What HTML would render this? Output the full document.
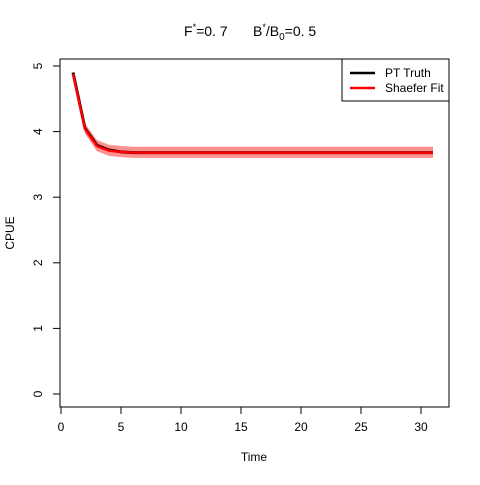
<!DOCTYPE html>
<html><head><meta charset="utf-8"><style>
body{margin:0;background:#fff}
svg text{font-family:"Liberation Sans",sans-serif;font-size:12px;fill:#000}
</style></head><body>
<svg width="480" height="480" xmlns="http://www.w3.org/2000/svg">
<rect width="480" height="480" fill="#fff"/>
<g style="font-size:14px">
<text x="184" y="36" style="font-size:14px">F<tspan dy="-6" style="font-size:9px">*</tspan><tspan dy="6">=0. 7</tspan></text>
<text x="253" y="36" style="font-size:14px">B<tspan dy="-6" style="font-size:9px">*</tspan><tspan dy="6">/B</tspan><tspan dy="4" style="font-size:10px">0</tspan><tspan dy="-4">=0. 5</tspan></text>
</g>
<g id="axes"></g>
<g id="marks"></g>
<rect x="60" y="59" width="389" height="348" fill="none" stroke="#000"/>
<g>
<rect x="342" y="59" width="107" height="42" fill="#fff" stroke="#000"/>
<line x1="350" y1="73" x2="375" y2="73" stroke="#000" stroke-width="2.5"/>
<text x="385" y="77">PT Truth</text>
<line x1="350" y1="88" x2="375" y2="88" stroke="#f00" stroke-width="2.5"/>
<text x="385" y="92">Shaefer Fit</text>
</g>
<text x="254" y="461" text-anchor="middle">Time</text>
<text transform="translate(14,233) rotate(-90)" text-anchor="middle">CPUE</text>
</svg>
<script>
const times=[1,2,3,4,5,6,7,8,9,10,11,12,13,14,15,16,17,18,19,20,21,22,23,24,25,26,27,28,29,30,31];
const truth=[4.90,4.05,3.79,3.72,3.69,3.68,3.68,3.68,3.68,3.68,3.68,3.68,3.68,3.68,3.68,3.68,3.68,3.68,3.68,3.68,3.68,3.68,3.68,3.68,3.68,3.68,3.68,3.68,3.68,3.68,3.68];
const fit=[4.88,4.04,3.78,3.71,3.69,3.68,3.68,3.68,3.68,3.68,3.68,3.68,3.68,3.68,3.68,3.68,3.68,3.68,3.68,3.68,3.68,3.68,3.68,3.68,3.68,3.68,3.68,3.68,3.68,3.68,3.68];
const upper=[4.91,4.12,3.87,3.80,3.78,3.77,3.77,3.77,3.77,3.77,3.77,3.77,3.77,3.77,3.77,3.77,3.77,3.77,3.77,3.77,3.77,3.77,3.77,3.77,3.77,3.77,3.77,3.77,3.77,3.77,3.77];
const lower=[4.85,3.97,3.70,3.63,3.61,3.60,3.60,3.60,3.60,3.60,3.60,3.60,3.60,3.60,3.60,3.60,3.60,3.60,3.60,3.60,3.60,3.60,3.60,3.60,3.60,3.60,3.60,3.60,3.60,3.60,3.60];
const xTicks=[0,5,10,15,20,25,30];
const yTicks=[0,1,2,3,4,5];
const X=v=>61+v*12, Y=v=>394-v*65.6;
const NS="http://www.w3.org/2000/svg";
const axes=document.getElementById('axes'), marks=document.getElementById('marks');
function mk(t,a,p){const e=document.createElementNS(NS,t);for(const k in a)e.setAttribute(k,a[k]);p.appendChild(e);return e;}
xTicks.forEach(v=>{
 const l=mk('line',{x1:X(v),x2:X(v),y1:407,y2:414,stroke:'#000'},axes);
 
 
 const t=mk('text',{x:X(v),y:431,'text-anchor':'middle'},axes);t.textContent=v;
 
 
});
yTicks.forEach(v=>{
 const l=mk('line',{x1:53,x2:60,y1:Y(v),y2:Y(v),stroke:'#000'},axes);
 
 
 const t=mk('text',{x:0,y:0,'text-anchor':'middle',transform:`translate(42,${Y(v)}) rotate(-90)`},axes);t.textContent=v;
 
 
});
let band=times.map((t,i)=>X(t)+','+Y(upper[i])).join(' ')+' '+times.map((t,i)=>X(t)+','+Y(lower[i])).reverse().join(' ');
const b=mk('polygon',{points:band,fill:'#ff9090',stroke:'none'},marks);


const p1=mk('polyline',{points:times.map((t,i)=>X(t)+','+Y(truth[i])).join(' '),fill:'none',stroke:'#000',"stroke-width":3},marks);


const p2=mk('polyline',{points:times.map((t,i)=>X(t)+','+Y(fit[i])).join(' '),fill:'none',stroke:'#f00',"stroke-width":2.5},marks);


</script>
</body></html>
